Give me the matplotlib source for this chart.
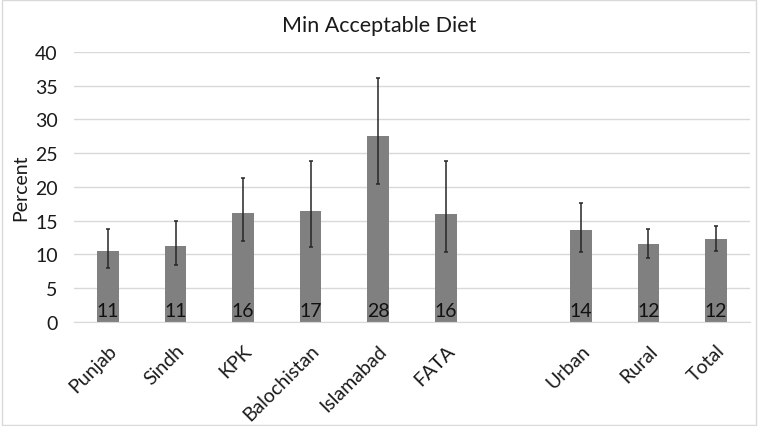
import matplotlib.pyplot as plt
import numpy as np

plt.rcParams['font.family'] = ['Lato', 'DejaVu Sans']

categories = ['Punjab', 'Sindh', 'KPK', 'Balochistan', 'Islamabad', 'FATA',
              'Urban', 'Rural', 'Total']
values = [10.5, 11.3, 16.1, 16.5, 27.6, 16.0, 13.6, 11.5, 12.3]
err_low = [8.0, 8.4, 12.0, 11.1, 20.5, 10.4, 10.4, 9.5, 10.5]
err_high = [13.7, 14.9, 21.4, 23.9, 36.1, 23.8, 17.6, 13.8, 14.2]
labels = ['11', '11', '16', '17', '28', '16', '14', '12', '12']

# provinces first, then a blank slot, then area types
slots = np.arange(len(categories) + 1)
x = np.delete(slots, 6)

values = np.array(values)
yerr = np.array([values - np.array(err_low), np.array(err_high) - values])

fig = plt.figure(figsize=(7.58, 4.27), dpi=100)
ax = fig.add_axes([0.098, 0.2436, 0.891, 0.6324])

ax.bar(x, values, width=0.32, color='#808080', zorder=2)
ax.errorbar(x, values, yerr=yerr, fmt='none', ecolor='#262626',
            elinewidth=1.1, capsize=1.5, capthick=1.1, zorder=3)

for xi, lab in zip(x, labels):
    ax.text(xi, 0.4, lab, ha='center', va='bottom', fontsize=14,
            color='#111111', zorder=4)

ax.set_xlim(-0.5, len(slots) - 0.5)
ax.set_ylim(0, 40)
ax.set_yticks(np.arange(0, 41, 5))
ax.set_xticks(x)
ax.set_xticklabels(categories, rotation=45, ha='right',
                   rotation_mode='anchor', fontsize=14, color='#1a1a1a')
ax.tick_params(axis='x', length=0, pad=14)
ax.tick_params(axis='y', length=0, labelsize=14, labelcolor='#1a1a1a', pad=12)
ax.grid(axis='y', color='#d9d9d9', linewidth=1, zorder=0)
for side in ['top', 'right', 'left']:
    ax.spines[side].set_visible(False)
ax.spines['bottom'].set_color('#d9d9d9')

ax.set_ylabel('Percent', fontsize=14, color='#1a1a1a', labelpad=4)
fig.text(0.5, 0.94, 'Min Acceptable Diet', ha='center', va='center',
         fontsize=15.5, color='#1a1a1a')

fig.patches.append(plt.Rectangle((0.003, 0.003), 0.994, 0.994,
                                 transform=fig.transFigure, fill=False,
                                 edgecolor='#d9d9d9', linewidth=1))

fig.savefig('out.png', dpi=100)
